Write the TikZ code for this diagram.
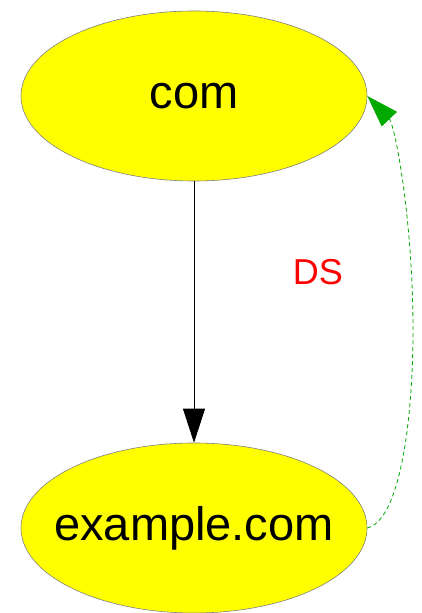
\documentclass[tikz,border=0pt]{standalone}
\usepackage{fontspec}
\setmainfont{Liberation Sans}
\usetikzlibrary{shapes.geometric,arrows.meta}
\definecolor{dsgreen}{RGB}{0,170,0}
\definecolor{zonefill}{RGB}{255,255,0}
\tikzset{
  zone/.style={ellipse, draw=gray, line width=0.6pt, fill=zonefill,
    minimum width=346pt, minimum height=170pt, inner sep=0pt,
    font=\fontsize{47}{56}\selectfont},
  delegation/.style={draw=black, line width=0.8pt,
    -{Triangle[length=34pt,width=22pt]}},
  dsrecord/.style={draw=dsgreen, line width=0.8pt, dash pattern=on 4pt off 3pt,
    -{Triangle[length=32pt,width=21pt,fill=dsgreen,color=dsgreen]}},
  dslabel/.style={text=red, font=\fontsize{36}{43}\selectfont, inner sep=0pt}
}
% zone names are boxed at zero width so the ellipse keeps its set size
\newcommand{\zonename}[1]{\makebox[0pt]{#1}}
\begin{document}
\begin{tikzpicture}[x=1pt,y=1pt]
  \useasboundingbox (0,0) rectangle (421,613);
  \node[zone] (com) at (194,517) {\zonename{com}};
  \node[zone] (example) at (194,85) {\zonename{example.com}};
  \draw[delegation] (com.south) -- (example.north);
  \coordinate (bend) at (413,283);
  \draw[dsrecord] (example.east) .. controls (400,93) and (413,193) .. (bend)
    .. controls (413,393) and (395,488) .. (com.east);
  \node[dslabel] (ds) at (318,341) {DS};
\end{tikzpicture}
\end{document}
